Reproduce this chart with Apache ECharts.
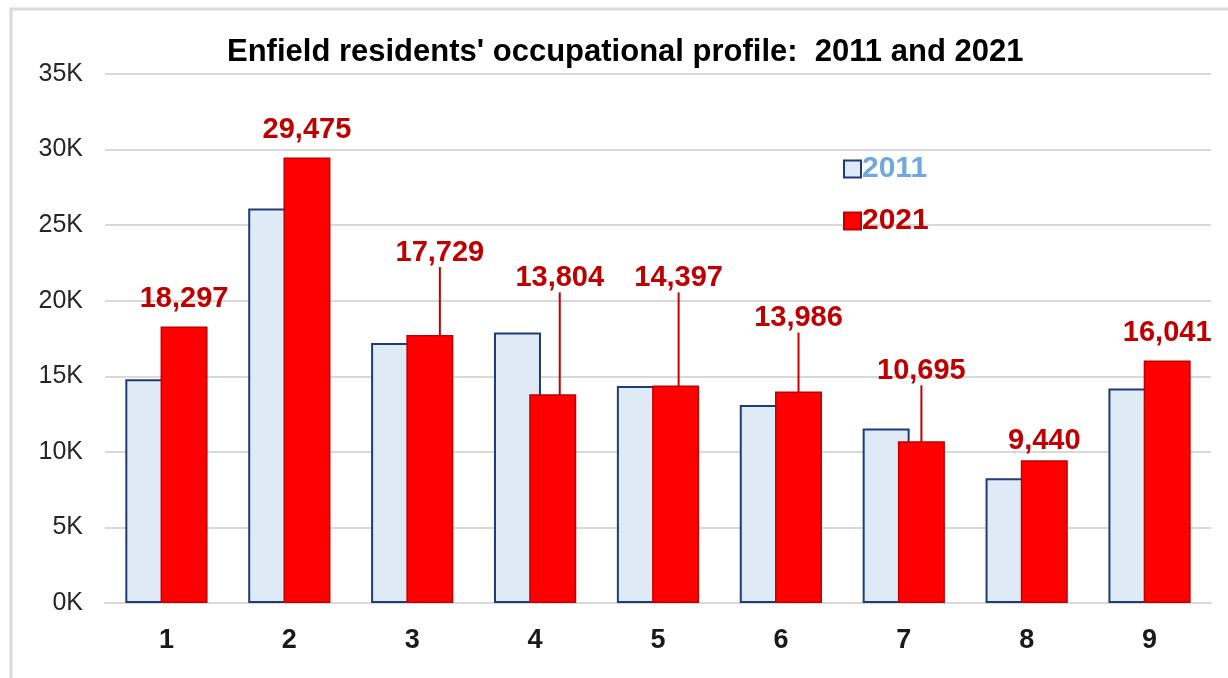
<!DOCTYPE html>
<html>
<head>
<meta charset="utf-8">
<script src="https://cdn.jsdelivr.net/npm/echarts@6/dist/echarts.min.js"></script>
<style>
  html, body { margin: 0; padding: 0; background: #fff; }
  #main { width: 1228px; height: 678px; }
</style>
</head>
<body>
<div id="main"></div>
<script>
// 数据
var categories = ['1', '2', '3', '4', '5', '6', '7', '8', '9'];
var values2011 = [14800, 26100, 17200, 17900, 14350, 13100, 11550, 8250, 14200];
var values2021 = [18297, 29475, 17729, 13804, 14397, 13986, 10695, 9440, 16041];
var yTicks = [0, 5000, 10000, 15000, 20000, 25000, 30000, 35000];

// 被拉开的标签 (px), 第三个值: 是否画引线
var labelShift = {
    2: [10, -55, true],
    3: [7, -89, true],
    4: [3, -80, true],
    5: [0, -46, true],
    6: [0, -43, true],
    7: [0, 8, false]
};

var chart = echarts.init(document.getElementById('main'));

chart.setOption({
    animation: false,
    textStyle: { fontFamily: 'Liberation Sans, Arial, sans-serif' },
    title: {
        text: "Enfield residents' occupational profile:  2011 and 2021",
        left: 222,
        top: 32,
        textStyle: { fontSize: 31, fontWeight: 'bold', color: '#000' }
    },
    graphic: [{
        type: 'rect',
        shape: { x: 11, y: 9, width: 1230, height: 700 },
        style: { fill: 'none', stroke: '#d9d9d9', lineWidth: 3 },
        silent: true
    }],
    legend: {
        orient: 'vertical',
        left: 838,
        top: 149,
        itemGap: 22,
        itemWidth: 17,
        itemHeight: 17,
        icon: 'rect',
        data: [
            { name: '2011', textStyle: { color: '#6FA8DC' } },
            { name: '2021', textStyle: { color: '#C00000' } }
        ],
        textStyle: { fontSize: 30, fontWeight: 'bold', padding: [0, 0, 0, -4] }
    },
    grid: { left: 105, right: 17, top: 74, bottom: 75 },
    xAxis: {
        type: 'category',
        data: categories,
        axisTick: { show: false },
        axisLine: { lineStyle: { color: '#d9d9d9', width: 2 } },
        axisLabel: { color: '#1a1a1a', fontSize: 27, fontWeight: 'bold', margin: 24 }
    },
    yAxis: {
        type: 'value',
        min: yTicks[0],
        max: yTicks[yTicks.length - 1],
        interval: yTicks[1] - yTicks[0],
        axisLine: { show: false },
        axisTick: { show: false },
        splitLine: { lineStyle: { color: '#d9d9d9', width: 2 } },
        axisLabel: {
            color: '#262626',
            fontSize: 25,
            margin: 22,
            formatter: function (v) { return (v / 1000) + 'K'; }
        }
    },
    series: [
        {
            name: '2011',
            type: 'bar',
            barWidth: 47,
            barGap: '-25%',
            itemStyle: { color: '#DEEAF6', borderColor: '#1F3B7A', borderWidth: 2 },
            data: values2011
        },
        {
            name: '2021',
            type: 'bar',
            barWidth: 47,
            barGap: '-25%',
            itemStyle: { color: '#FF0000', borderColor: '#C00000', borderWidth: 1.5 },
            label: {
                show: true,
                position: 'top',
                distance: 13,
                color: '#C00000',
                fontSize: 29,
                fontWeight: 'bold',
                formatter: function (p) { return p.value.toLocaleString('en-US'); }
            },
            labelLine: {
                show: true,
                lineStyle: { color: '#C00000', width: 2 }
            },
            labelLayout: function (p) {
                var s = labelShift[p.dataIndex];
                if (!s) return {};
                return { dx: s[0], dy: s[1] };
            },
            data: values2021.map(function (v, i) {
                var s = labelShift[i];
                return { value: v, labelLine: { show: !!(s && s[2]) } };
            })
        }
    ]
});
</script>
</body>
</html>
